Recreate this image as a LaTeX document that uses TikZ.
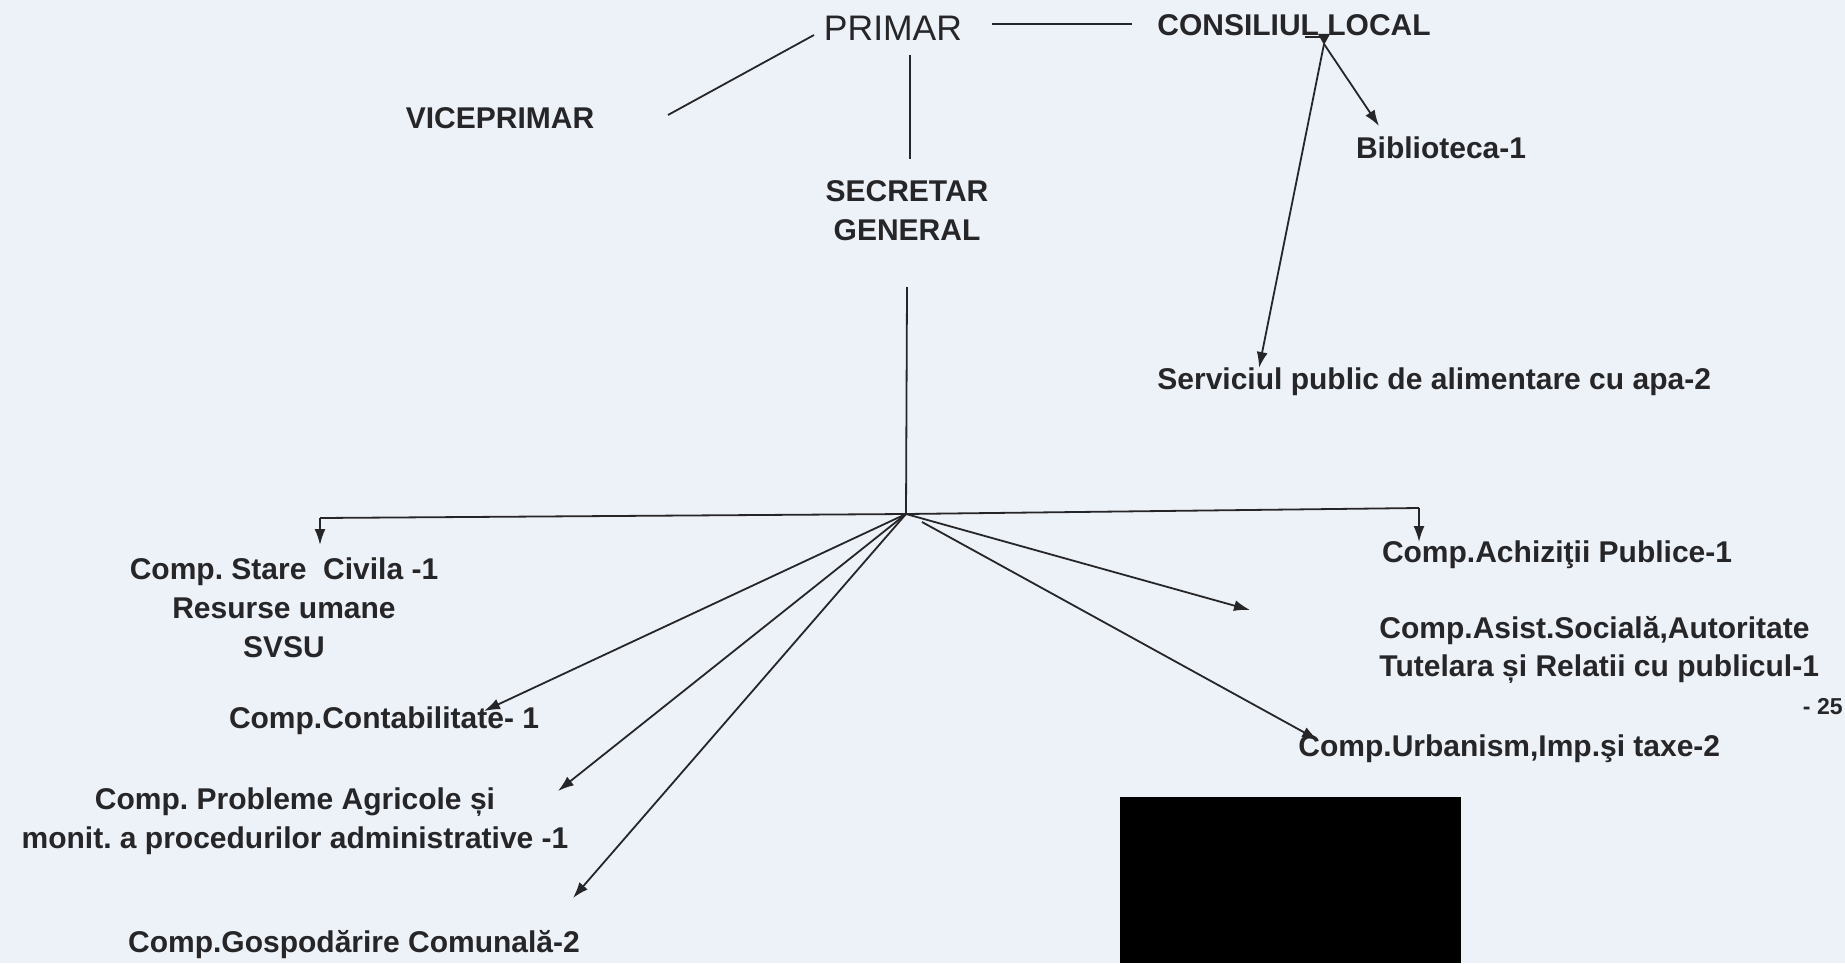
\documentclass[tikz,border=0pt]{standalone}
\usepackage{fontspec}
\setmainfont{Liberation Sans}
\usetikzlibrary{arrows.meta}
\definecolor{paper}{RGB}{237,241,248}
\definecolor{ink}{RGB}{38,38,40}
\frenchspacing
\begin{document}
\begin{tikzpicture}[x=0.5pt,y=-0.5pt,
  lbl/.style={font=\fontsize{15}{19.4}\selectfont\bfseries, text=ink, inner sep=0pt, align=center},
  conn/.style={draw=ink, line width=0.9pt},
  arr/.style={conn, -{Latex[length=8pt,width=5.5pt]}}]
\fill[paper] (0,0) rectangle (1845,963);
\useasboundingbox (0,0) rectangle (1845,963);
% nodes
\node[font=\fontsize{17.75}{20}\selectfont, text=ink, inner sep=0pt] (primar) at (893,28) {PRIMAR};
\node[lbl] (consiliu) at (1294,25) {CONSILIUL LOCAL};
\node[lbl] (vice) at (500,118) {VICEPRIMAR};
\node[lbl] (secretar) at (907,211) {SECRETAR\\GENERAL};
\node[lbl] (biblio) at (1441,148) {Biblioteca-1};
\node[lbl, anchor=west] (serv) at (1157,382) {Serviciul public de alimentare cu apa-2};
\node[lbl] (stare) at (284,608) {Comp. Stare\ \ Civila -1\\Resurse umane\\SVSU};
\node[lbl] (contab) at (384,721) {Comp.Contabilitate- 1};
\node[lbl] (agric) at (295,821) {Comp. Probleme Agricole și\\monit. a procedurilor administrative -1};
\node[lbl] (gosp) at (354,945) {Comp.Gospodărire Comunală-2};
\node[lbl] (achiz) at (1557,555) {Comp.Achiziţii Publice-1};
\node[lbl, align=left, anchor=west] (asist) at (1379,650) {Comp.Asist.Socială,Autoritate\\Tutelara și Relatii cu publicul-1};
\node[font=\fontsize{11.5}{13}\selectfont\bfseries, text=ink, inner sep=0pt, anchor=east] (pg) at (1843,707) {- 25};
\node[lbl, anchor=west] (urban) at (1298,749) {Comp.Urbanism,Imp.şi taxe-2};
% redaction box
\fill[black] (1120,797) rectangle (1461,963);
% coordinates
\coordinate (pA) at (992,24);
\coordinate (pB) at (1132,24);
\coordinate (v1) at (814,35);
\coordinate (v2) at (668,115);
\coordinate (s1) at (910,55);
\coordinate (s2) at (910,159);
\coordinate (s3) at (907,287);
\coordinate (hub) at (906,514);
\coordinate (hubU) at (922,522);
\coordinate (barL) at (320,518);
\coordinate (barR) at (1419,508);
\coordinate (tipL) at (320,545);
\coordinate (tipR) at (1419,542);
\coordinate (cl) at (1324,44);
\coordinate (tBib) at (1379,126);
\coordinate (tServ) at (1259,368);
\coordinate (tContab) at (484,711);
\coordinate (tAgric) at (558,791);
\coordinate (tGosp) at (573,898);
\coordinate (tAsist) at (1250,610);
\coordinate (tUrban) at (1318,740);
% connectors
\draw[conn] (pA) -- (pB);
\draw[conn] (v1) -- (v2);
\draw[conn] (s1) -- (s2);
\draw[conn] (s3) -- (hub);
\draw[conn] (barL) -- (hub) -- (barR);
\draw[arr] (barL) -- (tipL);
\draw[arr] (barR) -- (tipR);
\draw[conn] (1305,37) -- (1327,37);
\fill[ink] (1318,34) -- (1330,34) -- (1324,45) -- cycle;
\draw[arr] (cl) -- (tBib);
\draw[arr] (cl) -- (tServ);
\draw[arr] (hub) -- (tContab);
\draw[arr] (hub) -- (tAgric);
\draw[arr] (hub) -- (tGosp);
\draw[arr] (hub) -- (tAsist);
\draw[arr] (hubU) -- (tUrban);
\end{tikzpicture}
\end{document}
